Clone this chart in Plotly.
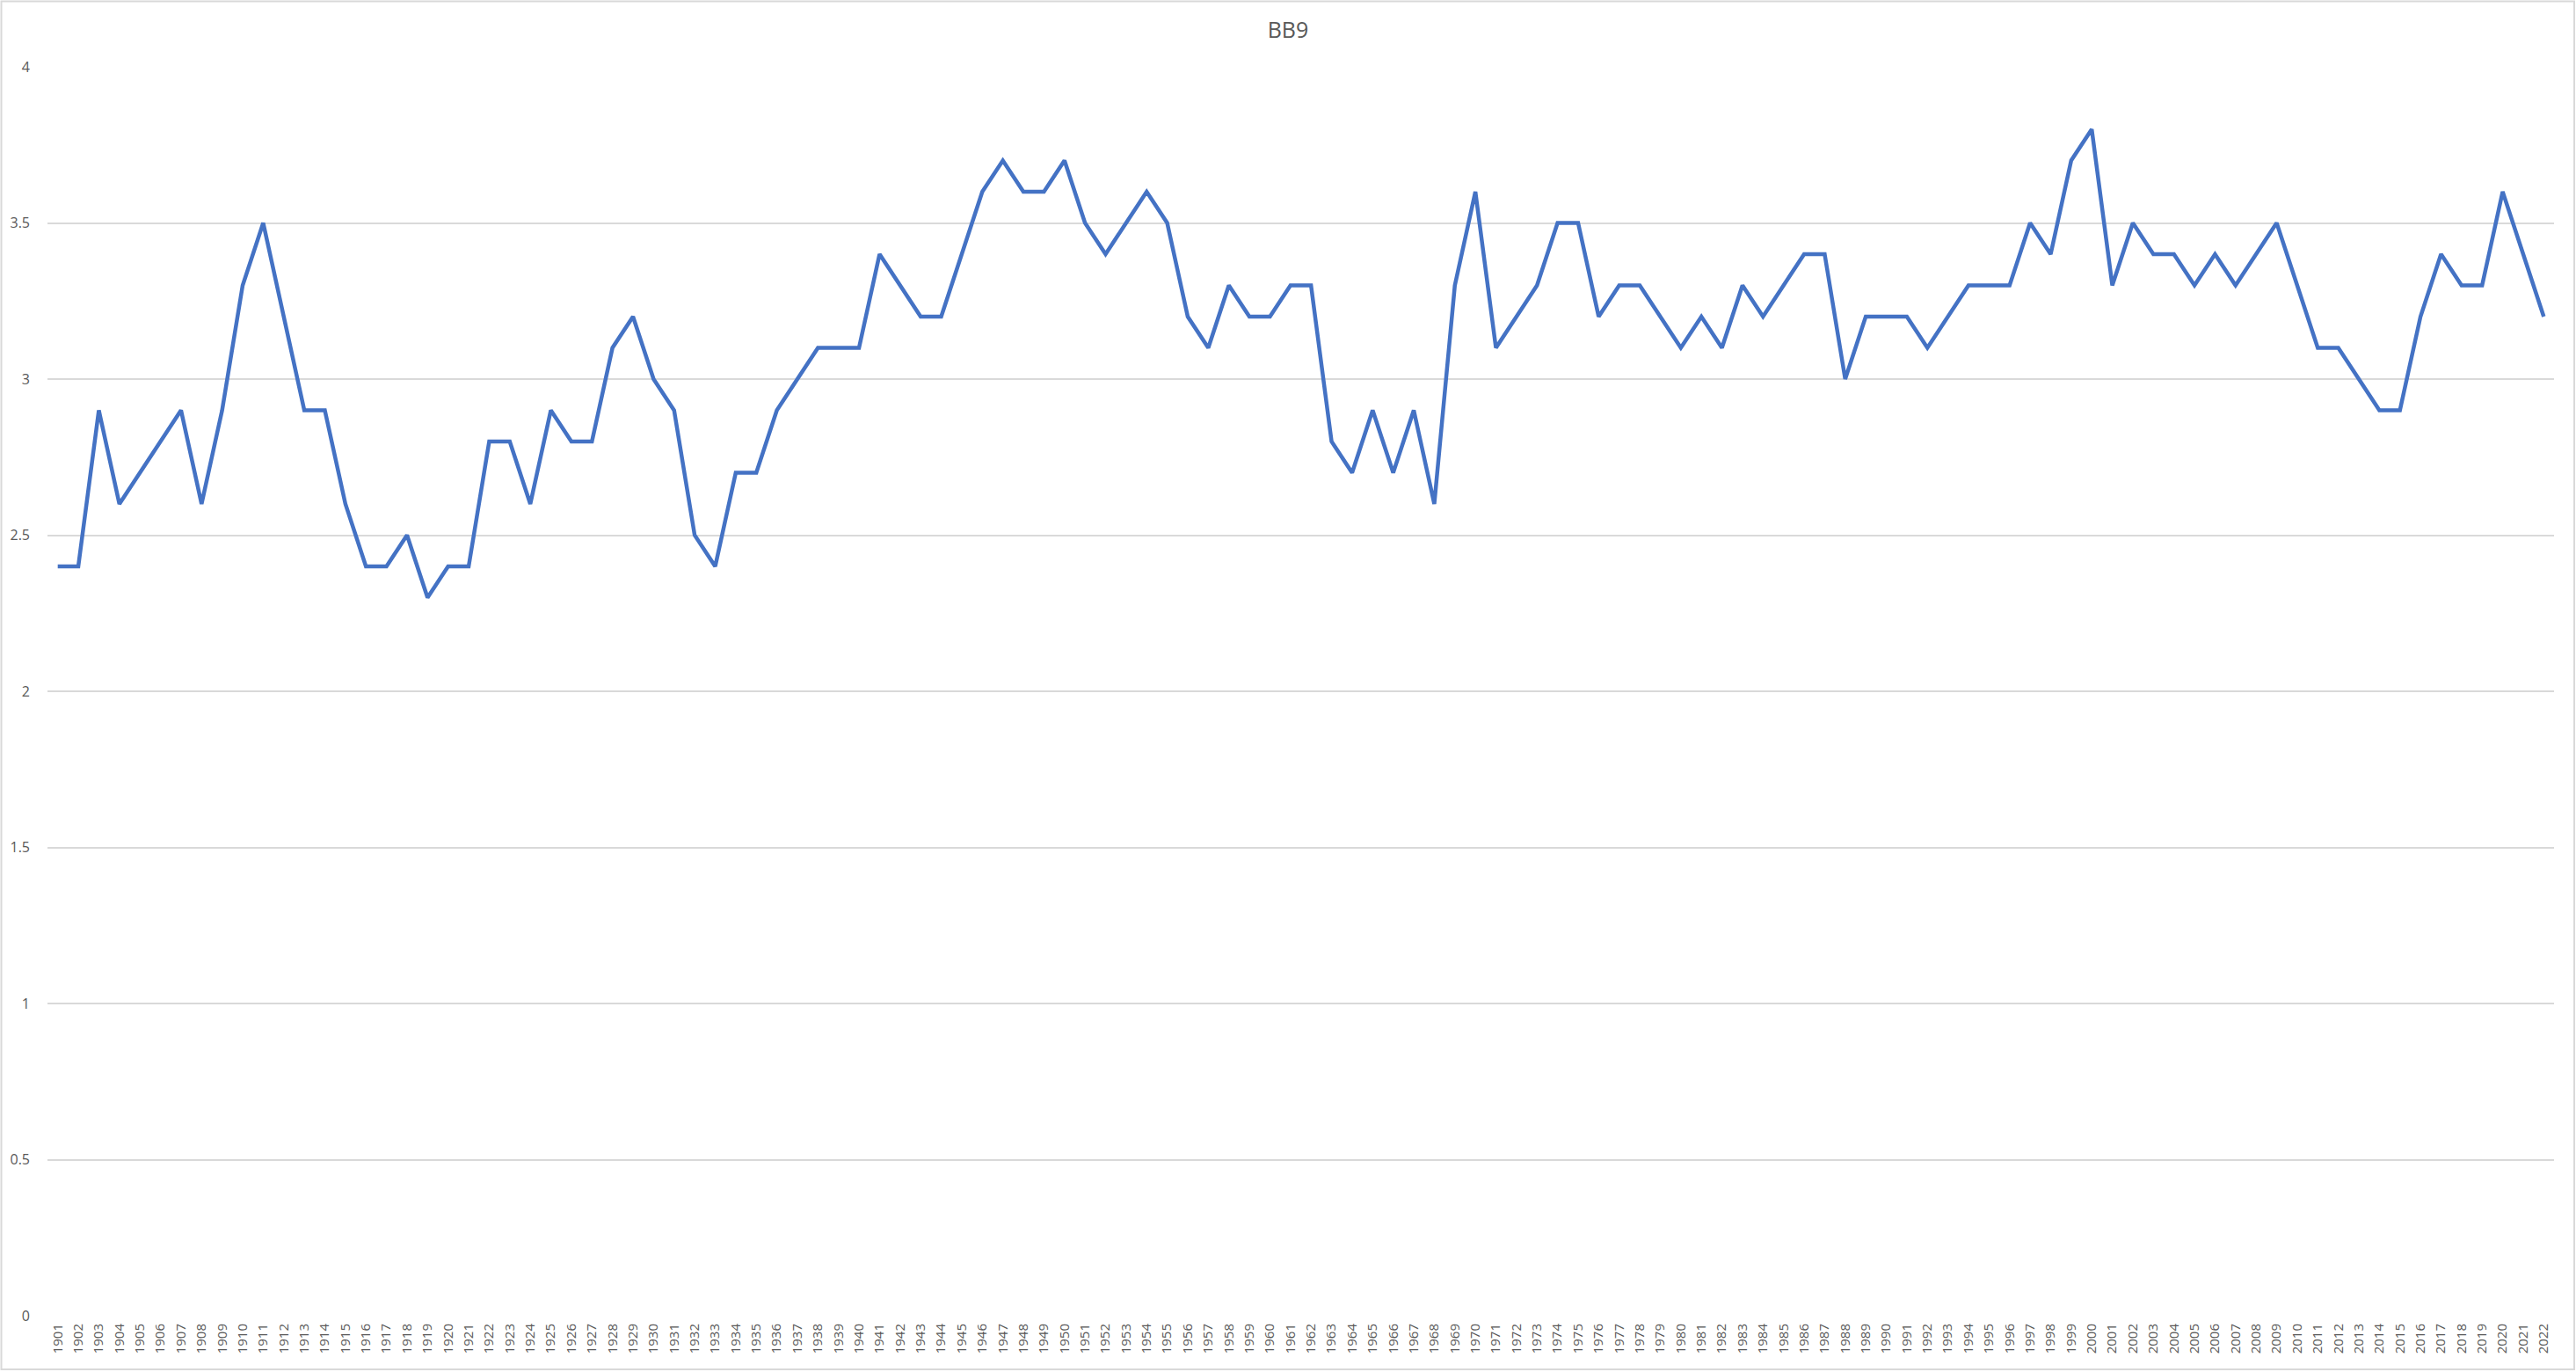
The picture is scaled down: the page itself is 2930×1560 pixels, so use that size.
import plotly.graph_objects as go

years = [str(y) for y in range(1901, 2023)]
bb9 = [
    2.4, 2.4, 2.9, 2.6, 2.7, 2.8, 2.9, 2.6, 2.9, 3.3,   # 1901-1910
    3.5, 3.2, 2.9, 2.9, 2.6, 2.4, 2.4, 2.5, 2.3, 2.4,   # 1911-1920
    2.4, 2.8, 2.8, 2.6, 2.9, 2.8, 2.8, 3.1, 3.2, 3.0,   # 1921-1930
    2.9, 2.5, 2.4, 2.7, 2.7, 2.9, 3.0, 3.1, 3.1, 3.1,   # 1931-1940
    3.4, 3.3, 3.2, 3.2, 3.4, 3.6, 3.7, 3.6, 3.6, 3.7,   # 1941-1950
    3.5, 3.4, 3.5, 3.6, 3.5, 3.2, 3.1, 3.3, 3.2, 3.2,   # 1951-1960
    3.3, 3.3, 2.8, 2.7, 2.9, 2.7, 2.9, 2.6, 3.3, 3.6,   # 1961-1970
    3.1, 3.2, 3.3, 3.5, 3.5, 3.2, 3.3, 3.3, 3.2, 3.1,   # 1971-1980
    3.2, 3.1, 3.3, 3.2, 3.3, 3.4, 3.4, 3.0, 3.2, 3.2,   # 1981-1990
    3.2, 3.1, 3.2, 3.3, 3.3, 3.3, 3.5, 3.4, 3.7, 3.8,   # 1991-2000
    3.3, 3.5, 3.4, 3.4, 3.3, 3.4, 3.3, 3.4, 3.5, 3.3,   # 2001-2010
    3.1, 3.1, 3.0, 2.9, 2.9, 3.2, 3.4, 3.3, 3.3, 3.6,   # 2011-2020
    3.4, 3.2,                                           # 2021-2022
]
y_ticks = [0, 0.5, 1, 1.5, 2, 2.5, 3, 3.5, 4]
y_tick_text = ["0", "0.5", "1", "1.5", "2", "2.5", "3", "3.5", "4"]
title_text = "BB9"

W, H = 2930, 1560
ML, MR, MT, MB = 54, 25, 76, 64
pw = W - ML - MR
ph = H - MT - MB

def px_x(p):
    return (p - ML) / pw

def px_y(p):
    return (H - MB - p) / ph

fig = go.Figure()
fig.add_trace(go.Scatter(
    x=years, y=bb9, mode="lines",
    line=dict(color="#4472C4", width=4.5),
    name="BB9", showlegend=False,
))

fig.update_layout(
    width=W, height=H,
    margin=dict(l=ML, r=MR, t=MT, b=MB, pad=0),
    paper_bgcolor="white", plot_bgcolor="white",
    font=dict(family="Open Sans, Noto Sans, sans-serif", color="#595959"),
    title=dict(text=title_text, x=0.5, xref="container", xanchor="center",
               y=1 - 34 / H, yref="container", yanchor="middle",
               font=dict(size=25, color="#595959")),
    xaxis=dict(
        type="category", range=[-0.5, len(years) - 0.5],
        showgrid=False, zeroline=False, showline=False,
        tickangle=-90, tickfont=dict(size=15, color="#595959"),
        ticks="", ticklabelstandoff=5,
    ),
    yaxis=dict(
        range=[0, 4], tickvals=y_ticks, ticktext=y_tick_text,
        showgrid=True, gridcolor="#D9D9D9", gridwidth=2,
        zeroline=False, showline=False, ticks="",
        tickfont=dict(size=16, color="#595959"),
        ticklabelstandoff=19,
    ),
    shapes=[dict(
        type="rect", xref="paper", yref="paper",
        x0=px_x(1.5), x1=px_x(2928), y0=px_y(1557), y1=px_y(1.5),
        line=dict(color="#D9D9D9", width=2), fillcolor="rgba(0,0,0,0)",
        layer="below",
    )],
)

fig.write_html(
    "out.html",
    config={"displayModeBar": False},
    post_script="document.body.style.margin='0';document.body.style.overflow='hidden';",
)
